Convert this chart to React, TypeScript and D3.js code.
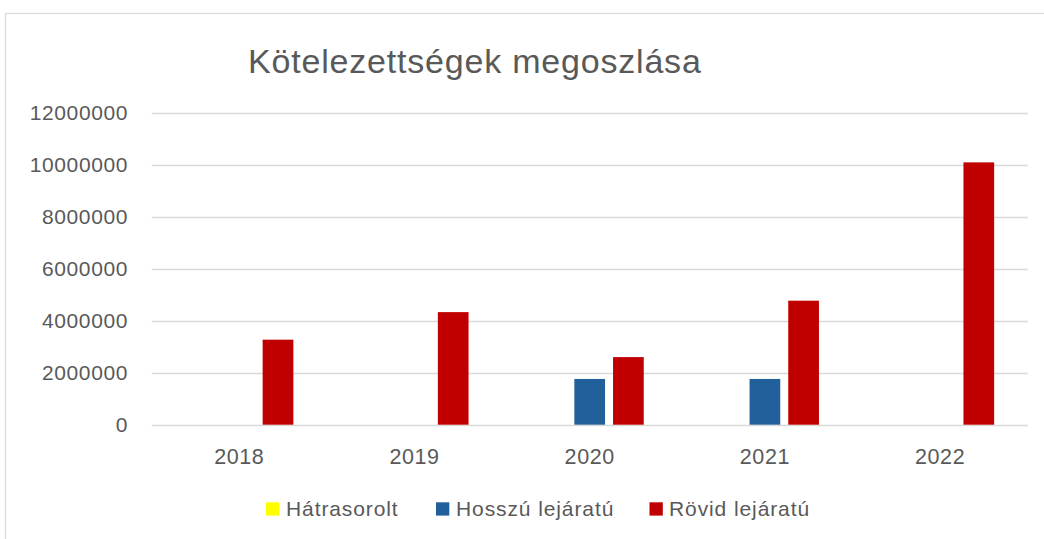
import React from "react";
import * as d3 from "d3";

const years = ["2018", "2019", "2020", "2021", "2022"];
const seriesNames = ["Hátrasorolt", "Hosszú lejáratú", "Rövid lejáratú"];
const hatrasorolt = [0, 0, 0, 0, 0];
const hosszu = [0, 0, 1760000, 1760000, 0];
const rovid = [3270000, 4330000, 2600000, 4770000, 10090000];
const colors = ["#FFFF00", "#22609C", "#C00000"];
const yTicks = [0, 2000000, 4000000, 6000000, 8000000, 10000000, 12000000];

const W = 1044;
const H = 539;

export default function App() {
  const values = [hatrasorolt, hosszu, rovid];
  const x0 = d3.scaleBand<string>().domain(years).range([151.7, 1027.7]).padding(0);
  const x1 = d3
    .scaleBand<string>()
    .domain(seriesNames)
    .range([-54.05, 54.05])
    .paddingInner(0.2067)
    .paddingOuter(0);
  const y = d3.scaleLinear().domain([0, 12000000]).range([424.7, 112.7]);
  const font = "'Liberation Sans', Arial, sans-serif";
  const textColor = "#595959";

  const legendItems = [
    { name: seriesNames[0], sx: 266, tx: 286 },
    { name: seriesNames[1], sx: 436, tx: 456 },
    { name: seriesNames[2], sx: 649.5, tx: 669 },
  ];

  return (
    <svg
      width={W}
      height={H}
      style={{ position: "absolute", left: 0, top: 0, background: "#fff" }}
    >
      <rect x={0} y={0} width={W} height={H} fill="#fff" />
      <rect x={5.5} y={13.5} width={1100} height={600} fill="none" stroke="#D9D9D9" strokeWidth={1.2} />
      <text
        x={248}
        y={73}
        fontFamily={font}
        fontSize={34}
        letterSpacing={0.8}
        fill={textColor}
      >
        Kötelezettségek megoszlása
      </text>
      {yTicks.map((t) => (
        <g key={t}>
          <line
            x1={151.7}
            x2={1027.7}
            y1={Math.round(y(t)) + 0.5}
            y2={Math.round(y(t)) + 0.5}
            stroke="#D9D9D9"
            strokeWidth={1.6}
          />
          <text
            x={128}
            y={y(t) + 7.5}
            textAnchor="end"
            fontFamily={font}
            fontSize={21}
            letterSpacing={0.6}
            fill={textColor}
          >
            {String(t)}
          </text>
        </g>
      ))}
      {years.map((yr, i) => (
        <g key={yr}>
          {values.map((vals, s) => {
            const v = vals[i];
            if (!v) return null;
            const cx = (x0(yr) ?? 0) + x0.bandwidth() / 2;
            return (
              <rect
                key={s}
                x={cx + (x1(seriesNames[s]) ?? 0)}
                y={y(v)}
                width={x1.bandwidth()}
                height={y(0) - y(v)}
                fill={colors[s]}
              />
            );
          })}
          <text
            x={(x0(yr) ?? 0) + x0.bandwidth() / 2}
            y={463.5}
            textAnchor="middle"
            fontFamily={font}
            fontSize={21.5}
            letterSpacing={0.6}
            fill={textColor}
          >
            {yr}
          </text>
        </g>
      ))}
      {legendItems.map((it, i) => (
        <g key={it.name}>
          <rect x={it.sx} y={502.3} width={13.3} height={13.3} fill={colors[i]} />
          <text
            x={it.tx}
            y={516}
            fontFamily={font}
            fontSize={21}
            letterSpacing={0.9}
            fill={textColor}
          >
            {it.name}
          </text>
        </g>
      ))}
    </svg>
  );
}
